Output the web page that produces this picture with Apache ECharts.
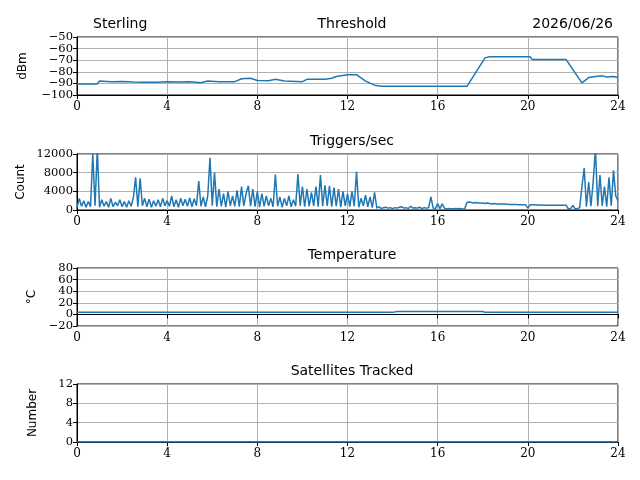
<!DOCTYPE html>
<html><head><meta charset="utf-8">
<script src="https://cdn.jsdelivr.net/npm/echarts@6/dist/echarts.min.js"></script>
<style>html,body{margin:0;padding:0;background:#fff}#c{width:640px;height:480px}</style>
</head><body><div id="c"></div>
<script>
const thresholdPts = [[0,-90.5],[0.9,-90.5],[1.0,-88],[1.5,-88.5],[2,-88.3],[2.5,-88.8],[3,-89],[3.5,-89],[4,-88.5],[4.5,-88.8],[5,-88.6],[5.5,-89.5],[5.8,-88],[6.3,-88.5],[7,-88.5],[7.3,-86],[7.7,-85.5],[8,-87.5],[8.5,-87.8],[8.8,-86.5],[9.2,-88],[10,-88.5],[10.2,-86.5],[11,-86.5],[11.3,-85.5],[11.5,-84],[12,-82.5],[12.4,-82.5],[12.8,-88],[13.2,-91.5],[13.5,-92.5],[17.3,-92.5],[18.1,-68],[18.3,-67],[20.1,-67],[20.2,-69.5],[21.7,-69.5],[22.4,-89.5],[22.7,-85],[23,-84],[23.3,-83.5],[23.5,-84.5],[23.8,-84],[24,-85]];
const triggerCounts = [
500,2500,800,2000,600,1800,700,12000,900,13000,
600,2200,800,1800,600,2500,700,1700,900,2200,
700,1800,600,2000,800,2600,7000,700,6800,900,
2500,700,2300,600,2000,800,2200,700,2500,900,
2000,800,3000,700,2200,600,2500,900,2300,800,
2600,700,2400,900,6200,800,2800,700,3000,11200,
900,8000,700,4500,800,3500,600,4000,900,3000,
800,4200,700,5000,900,3500,5200,800,4500,700,
4000,600,3500,800,3000,900,2500,700,7600,800,
2800,600,2500,900,3000,700,2200,800,7700,900,
5000,700,4500,800,3800,900,5000,700,7500,800,
5300,900,5200,700,4800,800,4500,600,4000,900,
3500,700,4000,800,8200,600,2500,900,3200,700,
2800,500,3800,400,700,300,500,600,400,500,
300,500,400,600,700,400,500,300,800,400,
500,400,600,300,500,400,500,2800,400,300,
1400,300,1300,400,200,300,250,200,300,250,
300,200,250,1600,1700,1600,1500,1600,1500,1500,
1500,1400,1500,1400,1300,1400,1300,1300,1300,1300,
1300,1250,1200,1200,1200,1200,1150,1150,1100,1100,
400,1100,1100,1100,1050,1050,1050,1000,1000,1000,
1000,1000,1000,1000,1000,1000,1000,1000,200,300,
1000,200,300,500,5000,9000,700,6000,800,6200,
13000,800,7500,900,5000,700,7000,900,8500,3000,
2000];
const triggerStep = 0.1;
const temperaturePts = [[0,3.5],[14,3.5],[14.2,5],[18,5],[18.1,3.5],[24,3.5]];
const satellitePts = [[0,0],[24,0]];
const thresholdTicks=[-100,-90,-80,-70,-60,-50], triggerTicks=[0,4000,8000,12000], tempTicks=[-20,0,20,40,60,80], satTicks=[0,4,8,12];
const panels = [
 {title:'Threshold', unit:'dBm', ticks:thresholdTicks, data:thresholdPts},
 {title:'Triggers/sec', unit:'Count', ticks:triggerTicks, data:triggerCounts.map((v,i)=>[+(i*triggerStep).toFixed(1),v])},
 {title:'Temperature', unit:'°C', ticks:tempTicks, data:temperaturePts},
 {title:'Satellites Tracked', unit:'Number', ticks:satTicks, data:satellitePts}
];
const tops=[37,154,268,384], heights=[58,56,58,58];
const serif='DejaVu Serif', sans='DejaVu Sans';
const opt={animation:false,grid:[],xAxis:[],yAxis:[],series:[],title:[
 {text:'Sterling',left:88,top:12,textStyle:{fontFamily:sans,fontWeight:'normal',fontSize:14,color:'#000'}},
 {text:'2026/06/26',right:22,top:12,textStyle:{fontFamily:sans,fontWeight:'normal',fontSize:14,color:'#000'}}
]};
const fmt=v=>String(v).replace('-','\u2212');
panels.forEach((p,i)=>{
 const t=p.ticks, mn=t[0], mx=t[t.length-1], step=t[1]-t[0];
 opt.grid.push({left:77,right:22,top:tops[i],height:heights[i],show:true,borderColor:'#000',borderWidth:1,backgroundColor:'transparent'});
 opt.title.push({text:p.title,left:347,textAlign:'center',top:tops[i]-25,textStyle:{fontFamily:sans,fontWeight:'normal',fontSize:14,color:'#000'}});
 opt.xAxis.push({type:'value',gridIndex:i,min:0,max:24,interval:4,
  axisLine:{show:true,lineStyle:{color:'#000'}},axisTick:{show:true,length:4,lineStyle:{color:'#000'}},
  axisLabel:{fontFamily:serif,fontSize:12,color:'#000',margin:6,showMinLabel:true,showMaxLabel:true},splitLine:{show:true,lineStyle:{color:'#b0b0b0'}}});
 const even=t.filter((v,k)=>k%2===0), odd=t.filter((v,k)=>k%2===1);
 const lab={fontFamily:serif,fontSize:11.5,color:'#000',margin:4,showMinLabel:true,showMaxLabel:true,hideOverlap:false,formatter:fmt};
 opt.yAxis.push({type:'value',gridIndex:i,min:mn,max:mx,interval:step,name:p.unit,nameLocation:'middle',nameGap:p.unit==='Count'?50:(p.unit==='dBm'?48:38),
  nameTextStyle:{fontFamily:sans,fontSize:12,color:'#000'},
  axisLine:{show:true,lineStyle:{color:'#000'}},axisTick:{show:true,length:4,lineStyle:{color:'#000'}},
  axisLabel:Object.assign({customValues:even},lab),
  splitLine:{show:true,lineStyle:{color:'#b0b0b0'}}});
 opt.yAxis.push({type:'value',gridIndex:i,position:'left',min:mn,max:mx,interval:step,
  axisLine:{show:false},axisTick:{show:false},splitLine:{show:false},
  axisLabel:Object.assign({customValues:odd},lab)});
 opt.series.push({type:'line',xAxisIndex:i,yAxisIndex:opt.yAxis.length-2,data:p.data,showSymbol:false,lineStyle:{color:'#1f77b4',width:1.5},itemStyle:{color:'#1f77b4'}});
});
echarts.init(document.getElementById('c')).setOption(opt);
</script></body></html>
